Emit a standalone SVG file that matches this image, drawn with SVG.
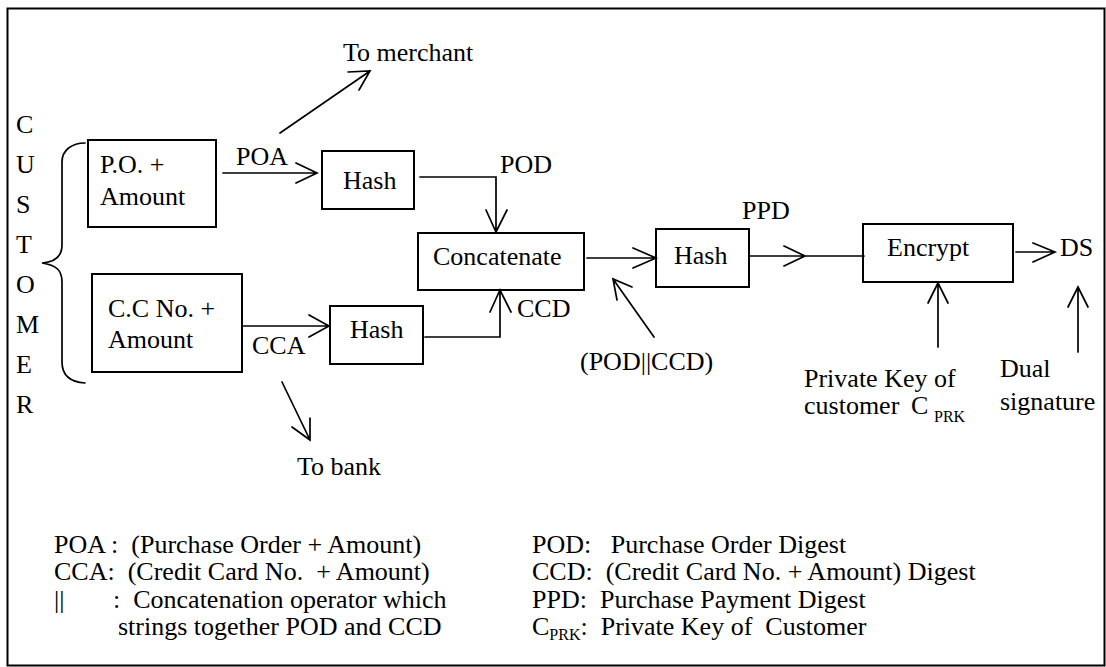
<svg xmlns="http://www.w3.org/2000/svg" width="1106" height="667" viewBox="0 0 1106 667">
<style>
.t{font-family:"Liberation Serif","Times New Roman",serif;font-size:26px;fill:#000}
.lg{font-family:"Liberation Serif","Times New Roman",serif;font-size:26px;fill:#000}
.sub{font-size:16px}
.box{fill:#fff;stroke:#000;stroke-width:2}
.ln{fill:none;stroke:#000;stroke-width:1.7;stroke-linecap:round;stroke-linejoin:miter}
</style>
<rect x="0" y="0" width="1106" height="667" fill="#fff"/>
<rect id="frame" x="7.5" y="8.5" width="1097" height="657" fill="none" stroke="#000" stroke-width="2"/>

<g id="customer">
<text class="t" x="16" y="133">C</text>
<text class="t" x="16" y="173">U</text>
<text class="t" x="16" y="213">S</text>
<text class="t" x="16" y="253">T</text>
<text class="t" x="16" y="293">O</text>
<text class="t" x="16" y="333">M</text>
<text class="t" x="16" y="373">E</text>
<text class="t" x="16" y="413">R</text>
<path class="ln" d="M85,143 C72,143 62,150 62,162 L62,245 C62,256 56,262 42,263 C56,265 62,270 62,282 L62,362 C62,375 70,382 85,383"/>
</g>

<g id="po-amount">
<rect class="box" x="88" y="140" width="128" height="87"/>
<text class="t" x="100" y="173">P.O. +</text>
<text class="t" x="100" y="205">Amount</text>
</g>

<g id="cc-amount">
<rect class="box" x="92" y="274" width="150" height="98"/>
<text class="t" x="108" y="317">C.C No. +</text>
<text class="t" x="108" y="348">Amount</text>
</g>

<g id="hash1">
<rect class="box" x="322" y="151" width="92" height="58"/>
<text class="t" x="343" y="189">Hash</text>
</g>

<g id="hash-lower">
<rect class="box" x="330" y="306" width="93" height="58"/>
<text class="t" x="350" y="338">Hash</text>
</g>

<g id="concatenate">
<rect class="box" x="418" y="233" width="166" height="57"/>
<text class="t" x="433" y="265">Concatenate</text>
</g>

<g id="hash2">
<rect class="box" x="656" y="229" width="93" height="58"/>
<text class="t" x="674" y="264">Hash</text>
</g>

<g id="encrypt">
<rect class="box" x="863" y="224" width="150" height="58"/>
<text class="t" x="887" y="256">Encrypt</text>
</g>

<g id="labels">
<text class="t" x="343" y="61">To merchant</text>
<text class="t" x="297" y="475">To bank</text>
<text class="t" x="236" y="165">POA</text>
<text class="t" x="252" y="354">CCA</text>
<text class="t" x="500" y="173">POD</text>
<text class="t" x="517" y="317">CCD</text>
<text class="t" x="742" y="219">PPD</text>
<text class="t" x="1060" y="256">DS</text>
<text class="t" x="580" y="370">(POD||CCD)</text>
<text class="t" x="804" y="387">Private Key of</text>
<text class="t" x="804" y="414">customer</text>
<text class="t" x="911" y="414">C</text>
<text class="t sub" x="934" y="422">PRK</text>
<text class="t" x="1000" y="377">Dual</text>
<text class="t" x="1000" y="410">signature</text>
</g>

<g id="connectors">
<path class="ln" d="M280,133 L370,71 M348,72 L370,71 L359,90"/>
<path class="ln" d="M223,173 L317,173 M296,163 L317,173 L296,183"/>
<path class="ln" d="M420,177 L496,177 L496,232 M486,210 L496,232 L507,210"/>
<path class="ln" d="M242,326 L329,326 M309,315 L329,326 L309,337"/>
<path class="ln" d="M282,382 L310,440 M292,427 L310,440 L310,418"/>
<path class="ln" d="M425,337 L500,337 L500,290 M490,312 L500,290 L511,312"/>
<path class="ln" d="M587,258 L656,258 M633,248 L656,258 L633,268"/>
<path class="ln" d="M654,337 L613,279 M617,300 L613,279 L632,287"/>
<path class="ln" d="M750,256 L864,256 M784,246 L805,256 L784,266"/>
<path class="ln" d="M1016,252 L1055,252 M1033,243 L1055,252 L1033,262"/>
<path class="ln" d="M938,347 L938,283 M928,303 L938,283 L948,303"/>
<path class="ln" d="M1078,352 L1078,287 M1068,307 L1078,287 L1088,307"/>
</g>

<g id="legend">
<text class="lg" x="54" y="553" xml:space="preserve">POA :  (Purchase Order + Amount)</text>
<text class="lg" x="54" y="580" xml:space="preserve">CCA:  (Credit Card No.  + Amount)</text>
<text class="lg" x="54" y="608">||</text>
<text class="lg" x="113" y="608" xml:space="preserve">:  Concatenation operator which</text>
<text class="lg" x="118" y="635">strings together POD and CCD</text>
<text class="lg" x="532" y="553" xml:space="preserve">POD:   Purchase Order Digest</text>
<text class="lg" x="532" y="580" xml:space="preserve">CCD:  (Credit Card No. + Amount) Digest</text>
<text class="lg" x="532" y="608" xml:space="preserve">PPD:  Purchase Payment Digest</text>
<text class="lg" x="532" y="635">C<tspan class="sub" dy="5">PRK</tspan><tspan dy="-5" xml:space="preserve">:  Private Key of  Customer</tspan></text>
</g>
</svg>
